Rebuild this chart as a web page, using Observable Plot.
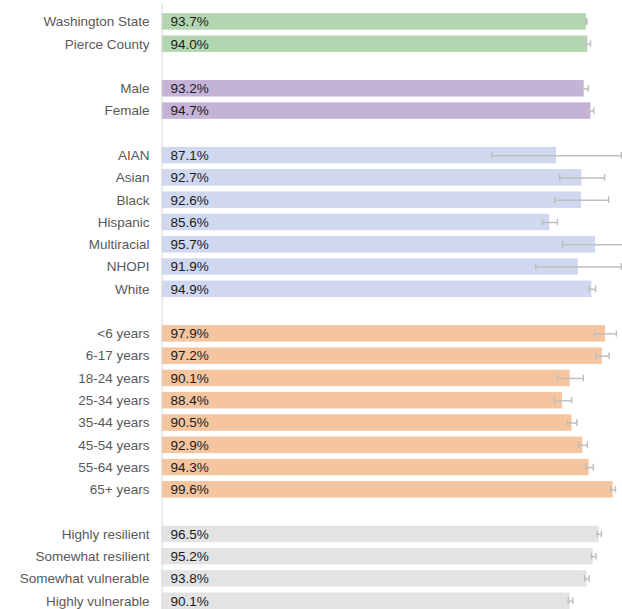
<!DOCTYPE html>
<html>
<head>
<meta charset="utf-8">
<script src="https://cdn.jsdelivr.net/npm/d3@7"></script>
<script src="https://cdn.jsdelivr.net/npm/@observablehq/plot@0.6"></script>
<style>
  html, body { margin: 0; padding: 0; background: #fff; }
  #chart svg { display: block; }
</style>
</head>
<body>
<div id="chart"></div>
<script>
const categories = ["Washington State", "Pierce County", "Male", "Female",
  "AIAN", "Asian", "Black", "Hispanic", "Multiracial", "NHOPI", "White",
  "<6 years", "6-17 years", "18-24 years", "25-34 years", "35-44 years", "45-54 years", "55-64 years", "65+ years",
  "Highly resilient", "Somewhat resilient", "Somewhat vulnerable", "Highly vulnerable"];
const groups = ["geo", "geo", "sex", "sex",
  "race", "race", "race", "race", "race", "race", "race",
  "age", "age", "age", "age", "age", "age", "age", "age",
  "res", "res", "res", "res"];
const values = [93.7, 94.0, 93.2, 94.7,
  87.1, 92.7, 92.6, 85.6, 95.7, 91.9, 94.9,
  97.9, 97.2, 90.1, 88.4, 90.5, 92.9, 94.3, 99.6,
  96.5, 95.2, 93.8, 90.1];
const ciLow = [93.6, 93.5, 92.5, 94.2,
  72.9, 87.8, 86.7, 84.0, 88.4, 82.5, 94.2,
  95.5, 95.8, 87.3, 86.6, 89.5, 92.0, 93.5, 99.0,
  96.1, 94.8, 93.3, 89.7];
const ciHigh = [93.8, 94.6, 94.1, 95.3,
  101.4, 97.7, 98.6, 87.3, 103.0, 101.4, 95.7,
  100.3, 98.7, 93.0, 90.4, 91.6, 93.9, 95.2, 100.1,
  97.0, 95.8, 94.3, 90.7];
const groupNames = ["geo", "sex", "race", "age", "res"];
const groupColors = ["#b2d7b0", "#c5b3d7", "#cfd8ef", "#f5c59f", "#e3e3e3"];

const data = categories.map((c, i) => ({
  category: c, group: groups[i], value: values[i], low: ciLow[i], high: ciHigh[i]
}));

// build y domain with a blank spacer row between groups
const domain = [];
let spacer = 0;
data.forEach((d, i) => {
  if (i > 0 && groups[i] !== groups[i - 1]) domain.push("__gap" + (spacer++));
  domain.push(d.category);
});

const chart = Plot.plot({
  width: 622,
  height: 609,
  marginTop: 3,
  marginBottom: 0,
  marginLeft: 161.5,
  marginRight: 0,
  style: {fontFamily: "Arial, 'Liberation Sans', sans-serif", fontSize: "13.5px", background: "#fff"},
  x: {domain: [0, 100], range: [161.5, 614.5], axis: null},
  y: {domain, range: [13.2, 609], paddingInner: 0.26, paddingOuter: 0, round: false, axis: null},
  color: {domain: groupNames, range: groupColors},
  marks: [
    Plot.barX(data, {x: "value", y: "category", fill: "group"}),
    Plot.ruleX([0], {stroke: "#d9d9d9", strokeWidth: 1}),
    Plot.ruleY(data, {x1: "low", x2: "high", y: "category", stroke: "#bfbfbf", strokeWidth: 1.5}),
    Plot.tickX(data, {x: "low", y: "category", stroke: "#bfbfbf", strokeWidth: 1.5, insetTop: 5, insetBottom: 5}),
    Plot.tickX(data, {x: "high", y: "category", stroke: "#bfbfbf", strokeWidth: 1.5, insetTop: 5, insetBottom: 5}),
    Plot.text(data, {x: () => 0, y: "category", text: d => d.value.toFixed(1) + "%", textAnchor: "start", dx: 8.5, fill: "#1a1a1a"}),
    Plot.text(data, {x: () => 0, y: "category", text: "category", textAnchor: "end", dx: -12.5, fill: "#595959"})
  ]
});
document.getElementById("chart").appendChild(chart);
</script>
</body>
</html>
